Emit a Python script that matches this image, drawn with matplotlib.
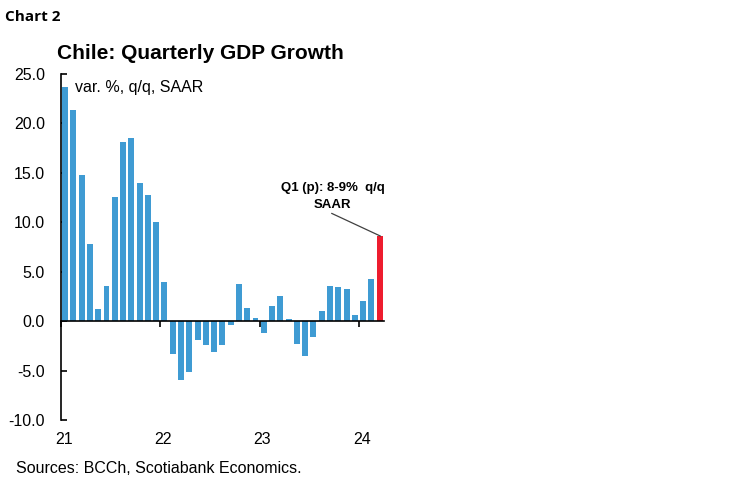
import matplotlib
matplotlib.use("Agg")
import matplotlib.pyplot as plt
import matplotlib.transforms as mtransforms

# monthly readings of quarterly GDP growth, Jan-21 .. Mar-24 (var. %, q/q, SAAR)
growth = [23.7, 21.4, 14.8, 7.8, 1.2, 3.6, 12.6, 18.1, 18.5, 14.0, 12.8, 10.0,
          4.0, -3.3, -6.0, -5.1, -1.9, -2.4, -3.1, -2.4, -0.4, 3.8, 1.3, 0.3,
          -1.2, 1.5, 2.5, 0.25, -2.3, -3.5, -1.65, 1.0, 3.6, 3.5, 3.2, 0.6,
          2.0, 4.25, 8.6]
year_labels = ["21", "22", "23", "24"]
yticks = [-10, -5, 0, 5, 10, 15, 20, 25]

blue = "#3f9bd3"
red = "#ee1c2e"
FS = 11.5

fig = plt.figure(figsize=(7.49, 4.82), dpi=100)
ax = fig.add_axes([0.0814, 0.1286, 0.431, 0.718])

x = list(range(len(growth)))
colors = [blue] * (len(growth) - 1) + [red]
ax.bar(x, growth, width=0.72, color=colors, zorder=2)

ax.set_xlim(-0.5, len(growth) - 0.5)
ax.set_ylim(-10, 25)
ax.set_yticks(yticks)
ax.set_yticklabels([f"{v:.1f}" for v in yticks], family="Liberation Sans", fontsize=FS)
ax.tick_params(axis="y", direction="in", length=4, pad=11.5, width=1.2)

# x axis sits on zero, year labels drawn below the plot
ax.spines["bottom"].set_position(("data", 0))
ax.spines["top"].set_visible(False)
ax.spines["right"].set_visible(False)
ax.spines["left"].set_linewidth(1.2)
ax.spines["bottom"].set_linewidth(1.2)
ax.spines["bottom"].set_zorder(3)
ax.set_xticks([-0.5 + 12 * i for i in range(len(year_labels))])
ax.set_xticklabels([])
ax.tick_params(axis="x", direction="out", length=4, width=1.2)

trans = mtransforms.blended_transform_factory(ax.transData, ax.transAxes)
for i, lab in enumerate(year_labels):
    ax.text(12 * i - 0.15, -0.055, lab, transform=trans, ha="center", va="center",
            family="Liberation Sans", fontsize=FS)

ax.text(0.045, 0.962, "var. %, q/q, SAAR", transform=ax.transAxes, ha="left", va="center",
        family="Liberation Sans", fontsize=FS)

# annotation for latest quarter
ax.text(32.3, 12.6, "Q1 (p): 8-9%  q/q\nSAAR", ha="center", va="center", fontsize=9.5,
        fontweight="bold", family="Liberation Sans", linespacing=1.55)
ax.annotate("", xy=(len(growth) - 1 + 0.1, growth[-1]), xytext=(32.2, 10.9),
            arrowprops=dict(arrowstyle="-", color="#404040", lw=0.9,
                            shrinkA=0, shrinkB=0))

fig.text(0.007, 0.965, "Chart 2", ha="left", va="center", fontsize=11,
         fontweight="bold", family="Open Sans")
fig.text(0.076, 0.89, "Chile: Quarterly GDP Growth", ha="left", va="center",
         fontsize=15, fontweight="bold", family="Liberation Sans")
fig.text(0.022, 0.029, "Sources: BCCh, Scotiabank Economics.", ha="left", va="center",
         fontsize=FS, family="Liberation Sans")

fig.savefig("out.png", dpi=100)
